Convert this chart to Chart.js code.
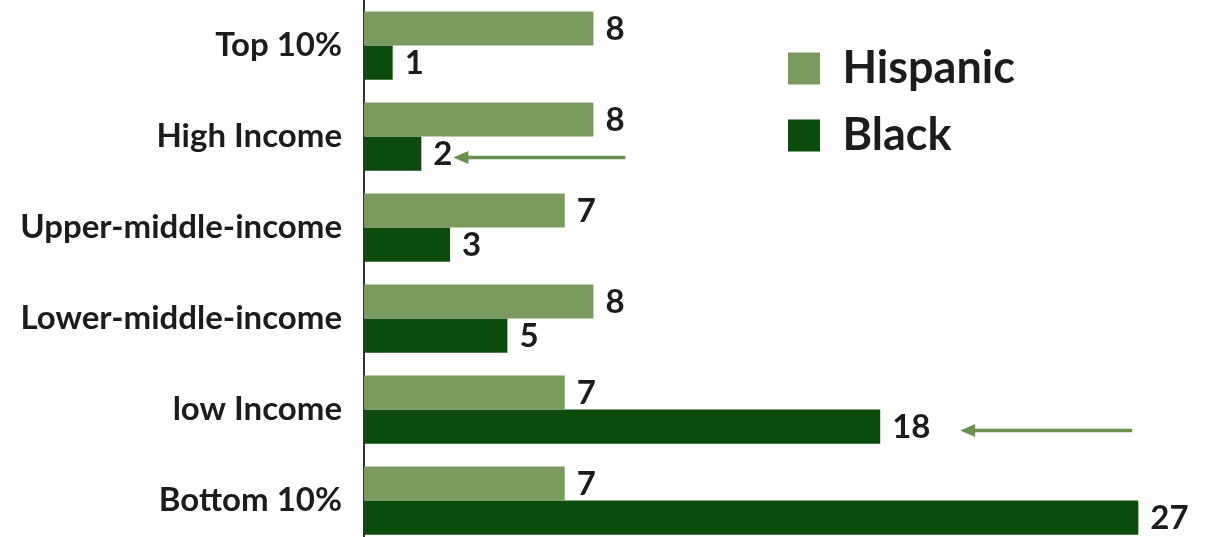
<!DOCTYPE html>
<html>
<head>
<meta charset="utf-8">
<script src="https://cdn.jsdelivr.net/npm/chart.js@4/dist/chart.umd.min.js"></script>
<style>
    html, body { margin: 0; padding: 0; background: #fff; overflow: hidden; }
    #wrap { position: relative; width: 1205px; height: 546px; }
</style>
</head>
<body>
<div id="wrap"><canvas id="incomeChart"></canvas></div>
<script>
// values
const categories = ['Top 10%', 'High Income', 'Upper-middle-income', 'Lower-middle-income', 'low Income', 'Bottom 10%'];
const hispanic = [8, 8, 7, 8, 7, 7];
const black = [1, 2, 3, 5, 18, 27];
const seriesNames = ['Hispanic', 'Black'];
const arrowCategories = ['High Income', 'low Income'];

const FONT = 'Lato, "Open Sans", sans-serif';
const TEXT = '#1c1c1c';

// value labels at the end of each bar
const valueLabels = {
    id: 'valueLabels',
    afterDatasetsDraw(chart) {
        const ctx = chart.ctx;
        ctx.save();
        ctx.font = 'bold 33px ' + FONT;
        ctx.fillStyle = TEXT;
        ctx.textAlign = 'left';
        ctx.textBaseline = 'middle';
        chart.data.datasets.forEach((ds, i) => {
            chart.getDatasetMeta(i).data.forEach((bar, j) => {
                ctx.fillText(String(ds.data[j]), bar.x + 12, bar.y + 1);
            });
        });
        ctx.restore();
    }
};

// the two green call-out arrows pointing at the Black bars
const arrows = {
    id: 'arrows',
    afterDatasetsDraw(chart) {
        const ctx = chart.ctx;
        const meta = chart.getDatasetMeta(1);
        const gaps = { 'High Income': 32, 'low Income': 80 };
        ctx.save();
        ctx.strokeStyle = '#6b9150';
        ctx.fillStyle = '#6b9150';
        ctx.lineWidth = 3.5;
        arrowCategories.forEach(cat => {
            const bar = meta.data[categories.indexOf(cat)];
            const tip = bar.x + gaps[cat];
            const y = bar.y + 4;
            const len = 172;
            ctx.beginPath();
            ctx.moveTo(tip + 10, y);
            ctx.lineTo(tip + len, y);
            ctx.stroke();
            ctx.beginPath();
            ctx.moveTo(tip, y);
            ctx.lineTo(tip + 15, y - 6.5);
            ctx.lineTo(tip + 15, y + 6.5);
            ctx.closePath();
            ctx.fill();
        });
        ctx.restore();
    }
};

// move the legend into the empty top-right part of the plot
const legendPlacer = {
    id: 'legendPlacer',
    afterLayout(chart) {
        const lg = chart.legend;
        const area = chart.chartArea;
        const pad = lg.options.labels.padding;
        lg.left = area.left + (area.right - area.left) * 0.528 - pad;
        lg.top = area.top + 46 - pad;
    }
};

new Chart(document.getElementById('incomeChart'), {
    type: 'bar',
    data: {
        labels: categories,
        datasets: [
            { label: seriesNames[0], data: hispanic, backgroundColor: '#7a9a5f' },
            { label: seriesNames[1], data: black, backgroundColor: '#0c4b0c' }
        ]
    },
    options: {
        indexAxis: 'y',
        responsive: true,
        maintainAspectRatio: false,
        animation: false,
        layout: { padding: { left: 0, right: 38, top: 0, bottom: 0 } },
        datasets: {
            bar: { categoryPercentage: 0.75, barPercentage: 1.0 }
        },
        scales: {
            x: {
                display: false,
                min: 0,
                max: 28
            },
            y: {
                afterFit(scale) {
                    scale.width = 364;
                    scale.paddingTop = 0;
                    scale.paddingBottom = 0;
                },
                grid: { display: false, drawTicks: false },
                border: { display: true, color: '#333', width: 2 },
                ticks: {
                    padding: 22,
                    color: TEXT,
                    font: { family: FONT, size: 33, weight: 'bold' }
                }
            }
        },
        plugins: {
            legend: {
                position: 'chartArea',
                align: 'start',
                fullSize: false,
                labels: {
                    boxWidth: 32,
                    boxHeight: 32,
                    padding: 22,
                    color: TEXT,
                    font: { family: FONT, size: 45, weight: 'bold' }
                }
            },
            tooltip: { enabled: false }
        }
    },
    plugins: [valueLabels, arrows, legendPlacer]
});
</script>
</body>
</html>
